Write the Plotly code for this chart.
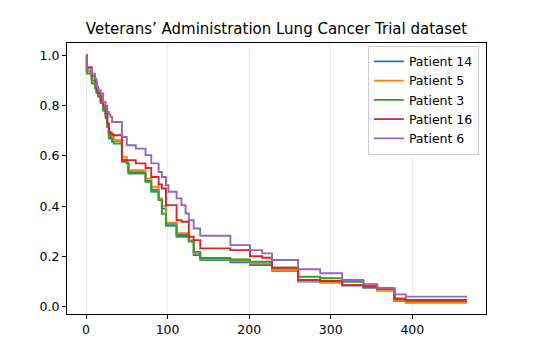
import plotly.graph_objects as go

# Event times (days) shared by all predicted survival functions
times = [0, 1, 7, 11, 13, 15, 18, 21, 24, 26,
         28, 30, 32, 34, 44, 50, 52, 61, 73, 80,
         89, 93, 98, 101, 111, 117, 122, 126, 132, 140,
         177, 201, 216, 228, 260, 287, 314, 340, 357, 378,
         392, 467]

# Predicted survival probability per patient
patient_14 = [1.0, 0.935, 0.90, 0.88, 0.855, 0.84, 0.815, 0.79, 0.76, 0.72,
              0.685, 0.675, 0.665, 0.660, 0.585, 0.572, 0.535, 0.535, 0.50, 0.465,
              0.43, 0.39, 0.33, 0.33, 0.285, 0.285, 0.285, 0.26, 0.205, 0.186,
              0.177, 0.166, 0.166, 0.143, 0.10, 0.096, 0.084, 0.075, 0.064, 0.023,
              0.018, 0.018]
patient_5 = [1.0, 0.938, 0.905, 0.885, 0.86, 0.845, 0.82, 0.795, 0.765, 0.725,
             0.69, 0.685, 0.675, 0.662, 0.596, 0.575, 0.543, 0.543, 0.51, 0.477,
             0.43, 0.40, 0.334, 0.334, 0.292, 0.292, 0.292, 0.265, 0.212, 0.189,
             0.183, 0.172, 0.172, 0.146, 0.102, 0.098, 0.086, 0.077, 0.066, 0.024,
             0.016, 0.016]
patient_3 = [1.0, 0.927, 0.888, 0.87, 0.85, 0.835, 0.81, 0.78, 0.75, 0.715,
             0.669, 0.669, 0.655, 0.649, 0.576, 0.570, 0.530, 0.530, 0.497, 0.457,
             0.424, 0.37, 0.322, 0.322, 0.278, 0.278, 0.278, 0.26, 0.218, 0.194,
             0.188, 0.179, 0.179, 0.155, 0.119, 0.113, 0.099, 0.086, 0.070, 0.029,
             0.023, 0.023]
patient_16 = [1.0, 0.953, 0.917, 0.894, 0.861, 0.850, 0.821, 0.80, 0.77, 0.73,
              0.695, 0.69, 0.685, 0.682, 0.583, 0.583, 0.583, 0.570, 0.552, 0.516,
              0.486, 0.470, 0.404, 0.404, 0.344, 0.338, 0.338, 0.278, 0.265, 0.232,
              0.225, 0.201, 0.195, 0.155, 0.106, 0.102, 0.086, 0.079, 0.073, 0.033,
              0.027, 0.027]
patient_6 = [1.0, 0.947, 0.927, 0.907, 0.875, 0.861, 0.848, 0.815, 0.80, 0.775,
             0.765, 0.755, 0.735, 0.735, 0.675, 0.642, 0.642, 0.629, 0.603, 0.570,
             0.536, 0.516, 0.483, 0.457, 0.431, 0.404, 0.371, 0.344, 0.311, 0.282,
             0.245, 0.225, 0.212, 0.186, 0.149, 0.133, 0.106, 0.090, 0.075, 0.049,
             0.040, 0.040]

names = ["Patient 14", "Patient 5", "Patient 3", "Patient 16", "Patient 6"]
series = [patient_14, patient_5, patient_3, patient_16, patient_6]
colors = ["#1f77b4", "#ff7f0e", "#2ca02c", "#d62728", "#9467bd"]  # matplotlib tab10

fig = go.Figure()
for name, surv, col in zip(names, series, colors):
    fig.add_trace(go.Scatter(x=times, y=surv, name=name, mode="lines",
                             line=dict(color=col, width=1.9, shape="hv")))

fig.update_layout(
    width=540, height=360,
    margin=dict(l=67, r=54, t=43, b=46),
    paper_bgcolor="white", plot_bgcolor="white",
    font=dict(family="DejaVu Sans", size=12.5, color="black"),
    title=dict(text="Veterans’ Administration Lung Cancer Trial dataset",
               font=dict(size=15), x=0.5, xref="paper",
               y=1 - 29 / 360, yref="container", yanchor="middle"),
    legend=dict(x=0.983, y=0.99, xanchor="right", yanchor="top",
                bgcolor="rgba(255,255,255,0.8)", bordercolor="#cccccc",
                borderwidth=1, font=dict(size=12.5)),
)
fig.update_xaxes(range=[-23.3, 490.3], tickvals=[0, 100, 200, 300, 400],
                 showgrid=True, gridcolor="rgba(0,0,0,0.07)", gridwidth=1,
                 showline=True, linecolor="black", linewidth=1, mirror=True,
                 ticks="outside", ticklen=4, tickcolor="black", zeroline=False)
fig.update_yaxes(range=[-0.029, 1.049], tickvals=[0, 0.2, 0.4, 0.6, 0.8, 1.0],
                 tickformat=".1f", showgrid=False,
                 showline=True, linecolor="black", linewidth=1, mirror=True,
                 ticks="outside", ticklen=4, tickcolor="black", zeroline=False)

# drop the default page margin so the figure sits at the window's corner
fig.write_html("out.html", config={"displayModeBar": False},
               post_script="document.body.style.margin='0';")
